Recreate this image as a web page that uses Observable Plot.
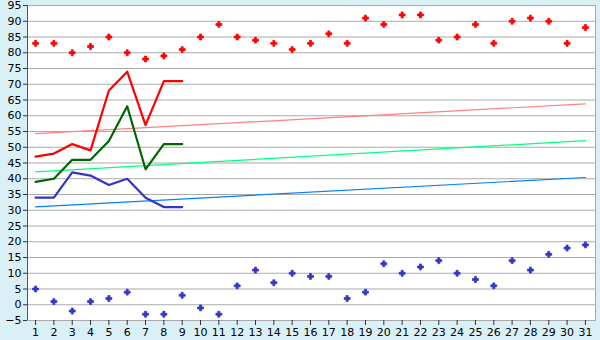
<!DOCTYPE html>
<html><head><meta charset="utf-8">
<script src="https://cdn.jsdelivr.net/npm/d3@7"></script>
<script src="https://cdn.jsdelivr.net/npm/@observablehq/plot@0.6"></script>
<style>
html,body{margin:0;padding:0;background:#daf0f7;}
#c{width:600px;height:340px;}
svg{overflow:visible;}
</style></head><body><div id="c"></div>
<script>
const days = d3.range(1, 32);
const maxVals = [83,83,80,82,85,80,78,79,81,85,89,85,84,83,81,83,86,83,91,89,92,92,84,85,89,83,90,91,90,83,88];
const minVals = [5,1,-2,1,2,4,-3,-3,3,-1,-3,6,11,7,10,9,9,2,4,13,10,12,14,10,8,6,14,11,16,18,19];
const lineDays = [1,2,3,4,5,6,7,8,9];
const redLine = [47,48,51,49,68,74,57,71,71];
const greenLine = [39,40,46,46,52,63,43,51,51];
const blueLine = [34,34,42,41,38,40,34,31,31];
const trendDays = [1,31];
const trendRed = [54.3,63.8];
const trendGreen = [42.2,52.1];
const trendBlue = [31.1,40.4];
const yTicks = d3.range(-5, 96, 5);

const pts = (xs, ys) => xs.map((x,i)=>({x, y: ys[i]}));

const chart = Plot.plot({
  width: 600, height: 340,
  marginLeft: 27, marginRight: 5, marginTop: 5, marginBottom: 20,
  style: {background: "#daf0f7", fontFamily: "DejaVu Sans, Verdana, sans-serif", fontSize: "11px", color: "#000", overflow: "visible"},
  x: {domain: [0.56, 31.55], label: null},
  y: {domain: [-5, 95], label: null},
  marks: [
    Plot.frame({fill: "white", stroke: "#aaaaaa"}),
    Plot.ruleY(yTicks, {stroke: "#aaaaaa", strokeWidth: 1.2}),
    Plot.ruleX([0.56], {stroke: "#555", strokeWidth: 1}),
    Plot.axisY({ticks: yTicks, tickSize: 4, tickPadding: 2, stroke: "#333", fill: "#000", label: null}),
    Plot.axisX({ticks: days, tickSize: 5, tickPadding: 3, tickFormat: d => d, stroke: "#333", fill: "#000", label: null}),
    Plot.line(pts(trendDays, trendRed), {x: "x", y: "y", stroke: "#ff8080", strokeWidth: 1.2}),
    Plot.line(pts(trendDays, trendGreen), {x: "x", y: "y", stroke: "#00ff80", strokeWidth: 1.2}),
    Plot.line(pts(trendDays, trendBlue), {x: "x", y: "y", stroke: "#0080ff", strokeWidth: 1.2}),
    Plot.line(pts(lineDays, redLine), {x: "x", y: "y", stroke: "#ff0000", strokeWidth: 2.2}),
    Plot.line(pts(lineDays, greenLine), {x: "x", y: "y", stroke: "#006600", strokeWidth: 2.2}),
    Plot.line(pts(lineDays, blueLine), {x: "x", y: "y", stroke: "#3333cc", strokeWidth: 2.2}),
    Plot.dot(pts(days, maxVals), {x: "x", y: "y", symbol: "cross", r: 2.5, fill: "#ff0000", stroke: "#ff0000", strokeWidth: 0.8}),
    Plot.dot(pts(days, minVals), {x: "x", y: "y", symbol: "cross", r: 2.5, fill: "#3333cc", stroke: "#3333cc", strokeWidth: 0.8})
  ]
});
document.getElementById("c").appendChild(chart);
</script></body></html>
